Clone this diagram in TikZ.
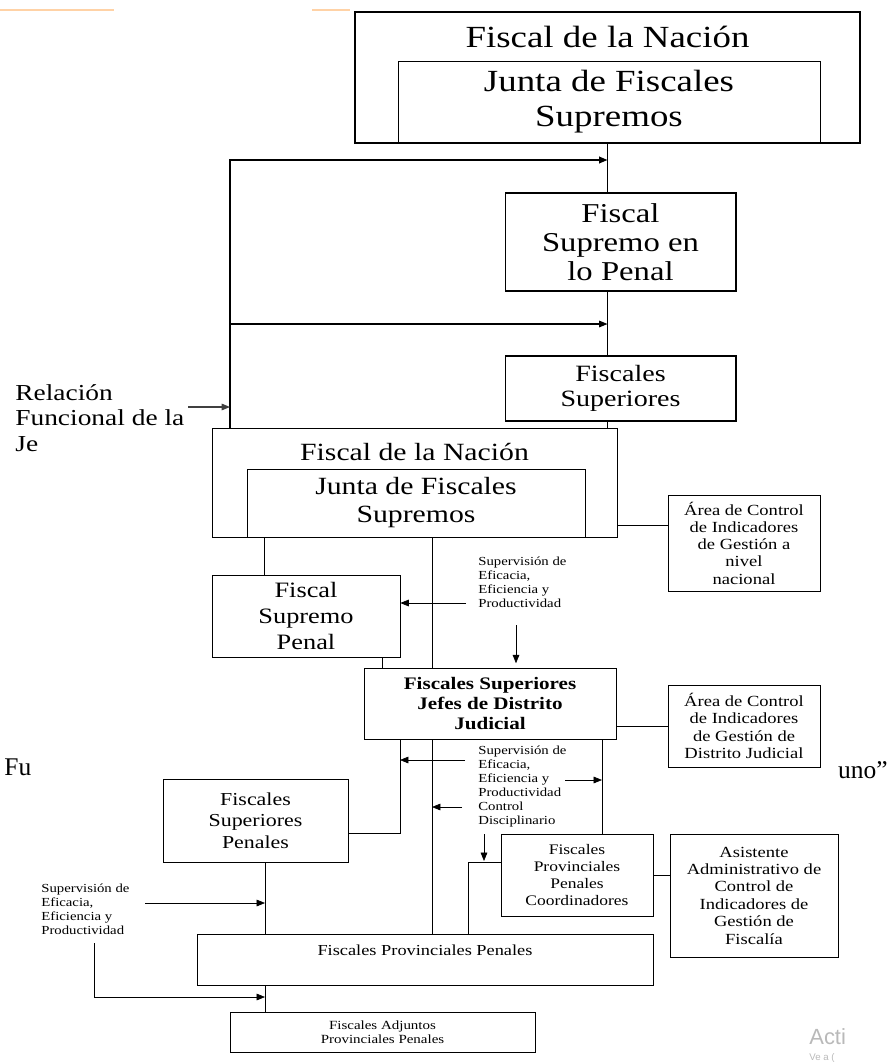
\documentclass[tikz,border=0pt]{standalone}
\usepackage{fontspec}
\setmainfont{Liberation Serif}[FakeStretch=1.2]
\setsansfont{Liberation Sans}
\newfontfamily\plainserif{Liberation Serif}
\usetikzlibrary{arrows.meta}

\begin{document}
\begin{tikzpicture}[x=0.02cm,y=-0.02cm,>={Triangle[length=4.8pt,width=3.8pt]},
  box/.style={draw,fill=white,inner sep=0pt,align=center},
  txt/.style={inner sep=0pt,align=left},
  sz/.style 2 args={font=\fontsize{#1}{#2}\selectfont}]
\useasboundingbox (0,0) rectangle (888,1064);

% faint marks left over at the top
\draw [orange!35, line width=1pt] (0,10) -- (114,10) (312,10) -- (350,10);

% upper block
\node [box, line width=1.2pt, minimum width=10.1cm, minimum height=2.62cm] (fn1) at (607.5,77.5) {};
\node [sz={17.5}{19.8}] (fn1t) at (607.5,37) {Fiscal de la Nación};
\node [box, fill=none, minimum width=8.44cm, minimum height=1.62cm, sz={17.5}{19.8}] (jfs1) at (609,101.5) {Junta de Fiscales\\Supremos};
\node [box, semithick, minimum width=4.62cm, minimum height=1.96cm, sz={15.5}{16.5}] (fsp1) at (620.5,242) {Fiscal\\Supremo en\\lo Penal};
\node [box, semithick, minimum width=4.62cm, minimum height=1.3cm, sz={13.3}{14.2}] (fs1) at (620.5,388.5) {Fiscales\\Superiores};

% lower block
\node [box, minimum width=8.1cm, minimum height=2.18cm] (fn2) at (414.5,482.5) {};
\node [sz={14.1}{15.9}] (fn2t) at (414.5,452) {Fiscal de la Nación};
\node [box, fill=none, minimum width=6.76cm, minimum height=1.36cm, sz={14.1}{15.9}] (jfs2) at (416,503) {Junta de Fiscales\\Supremos};
\node [box, minimum width=3.04cm, minimum height=1.92cm, sz={8.8}{9.8}] (area1) at (744,543) {Área de Control\\de Indicadores\\de Gestión a\\nivel\\nacional};
\node [box, minimum width=3.76cm, minimum height=1.64cm, sz={12.5}{14.7}] (fsp2) at (306,616) {Fiscal\\Supremo\\Penal};
\node [box, minimum width=5.04cm, minimum height=1.42cm, font=\fontsize{10}{11.3}\selectfont\bfseries] (fsjdj) at (490,703.5) {Fiscales Superiores\\Jefes de Distrito\\Judicial};
\node [box, minimum width=3.04cm, minimum height=1.64cm, sz={8.8}{9.8}] (area2) at (744,726) {Área de Control\\de Indicadores\\de Gestión de\\Distrito Judicial};
\node [box, minimum width=3.7cm, minimum height=1.66cm, sz={10.4}{12.2}] (fsp3) at (255.5,820.5) {Fiscales\\Superiores\\Penales};
\node [box, minimum width=3.04cm, minimum height=1.64cm, sz={8.3}{9.6}] (coord) at (577,875) {Fiscales\\Provinciales\\Penales\\Coordinadores};
\node [box, minimum width=3.36cm, minimum height=2.46cm, sz={8.8}{9.9}] (asis) at (754,895.5) {Asistente\\Administrativo de\\Control de\\Indicadores de\\Gestión de\\Fiscalía};
\node [box, minimum width=9.12cm, minimum height=1.02cm] (fpp) at (425,959.5) {};
\node [sz={8.7}{10}] (fppt) at (425,950) {Fiscales Provinciales Penales};
\node [box, minimum width=6.1cm, minimum height=0.8cm, sz={7.1}{7.9}] (fapp) at (382.5,1032) {Fiscales Adjuntos\\Provinciales Penales};

% side notes
\node [txt, anchor=west, sz={13}{14.4}] (rel) at (15,418) {Relación\\Funcional de la\\Je};
\node [txt, anchor=west, sz={7}{7.9}] (sup1) at (478,582.5) {Supervisión de\\Eficacia,\\Eficiencia y\\Productividad};
\node [txt, anchor=west, sz={7}{7.9}] (sup2) at (478,786.5) {Supervisión de\\Eficacia,\\Eficiencia y\\Productividad\\Control\\Disciplinario};
\node [txt, anchor=west, sz={7}{7.9}] (sup3) at (41,909.5) {Supervisión de\\Eficacia,\\Eficiencia y\\Productividad};
\node [anchor=west, inner sep=0pt, font=\plainserif\fontsize{14.5}{16}\selectfont] (fu) at (4,767) {Fu};
\node [anchor=east, inner sep=0pt, font=\plainserif\fontsize{14.5}{16}\selectfont] (uno) at (888,770) {uno”};
\node [anchor=west, inner sep=0pt, gray!55, font=\sffamily\fontsize{12.5}{14}\selectfont] (acti) at (809,1037) {Acti};
\node [anchor=west, inner sep=0pt, gray!55, font=\sffamily\fontsize{5.5}{6}\selectfont] (vea) at (809,1058) {Ve a (};

% upper chain
\draw (fn1.south) -- (fsp1.north -| fn1.south);
\draw (fsp1.south -| fn1.south) -- (fs1.north -| fn1.south);
\draw (fs1.south -| fn1.south) -- (fn2.north -| fn1.south);
\coordinate (lt) at (230,160);
\coordinate (lm) at (230,324);
\coordinate (ra) at (188,407);
\draw [->, line width=0.9pt] (fn2.north -| lt) -- (lt) -- (lt -| fn1.south);
\draw [->, semithick] (lm) -- (lm -| fn1.south);
\draw [->, semithick, black!75] (ra) -- (ra -| lt);

% lower chain
\draw (fn2.east |- 0,525) -- (area1.west |- 0,525);
\draw (jfs2.south -| 264,0) -- (fsp2.north -| 264,0);
\draw (fsp2.south -| 382,0) -- (fsjdj.north -| 382,0);
\draw (jfs2.south -| 432,0) -- (fsjdj.north -| 432,0);
\draw (fsjdj.south -| 432,0) -- (fpp.north -| 432,0);
\draw (fsjdj.east |- area2.west) -- (area2.west);
\draw (fsjdj.south -| 400,0) |- (fsp3.east |- 0,833);
\draw (fsjdj.south -| 602,0) -- (coord.north -| 602,0);
\draw (coord.east) -- (asis.west |- coord.east);
\draw (coord.west |- 0,862) -| (fpp.north -| 468,0);
\draw (fsp3.south -| 265,0) -- (fpp.north -| 265,0);
\draw (fpp.south -| 265,0) -- (fapp.north -| 265,0);

% supervision arrows
\coordinate (s1) at (466,603);
\coordinate (s2) at (516,625);
\coordinate (s3) at (465,760);
\coordinate (s4) at (565,780);
\coordinate (s5) at (462,807);
\coordinate (s6) at (484,834);
\coordinate (s7) at (145,903);
\coordinate (s8) at (94,943);
\draw [->] (s1) -- (s1 -| fsp2.east);
\draw [->, shorten >=2.5pt] (s2) -- (s2 |- fsjdj.north);
\draw [->] (s3) -- (400,760);
\draw [->] (s4) -- (602,780);
\draw [->] (s5) -- (432,807);
\draw [->] (s6) -- (484,861);
\draw [->] (s7) -- (265,903);
\draw [->] (s8) |- (265,997);
\end{tikzpicture}
\end{document}
